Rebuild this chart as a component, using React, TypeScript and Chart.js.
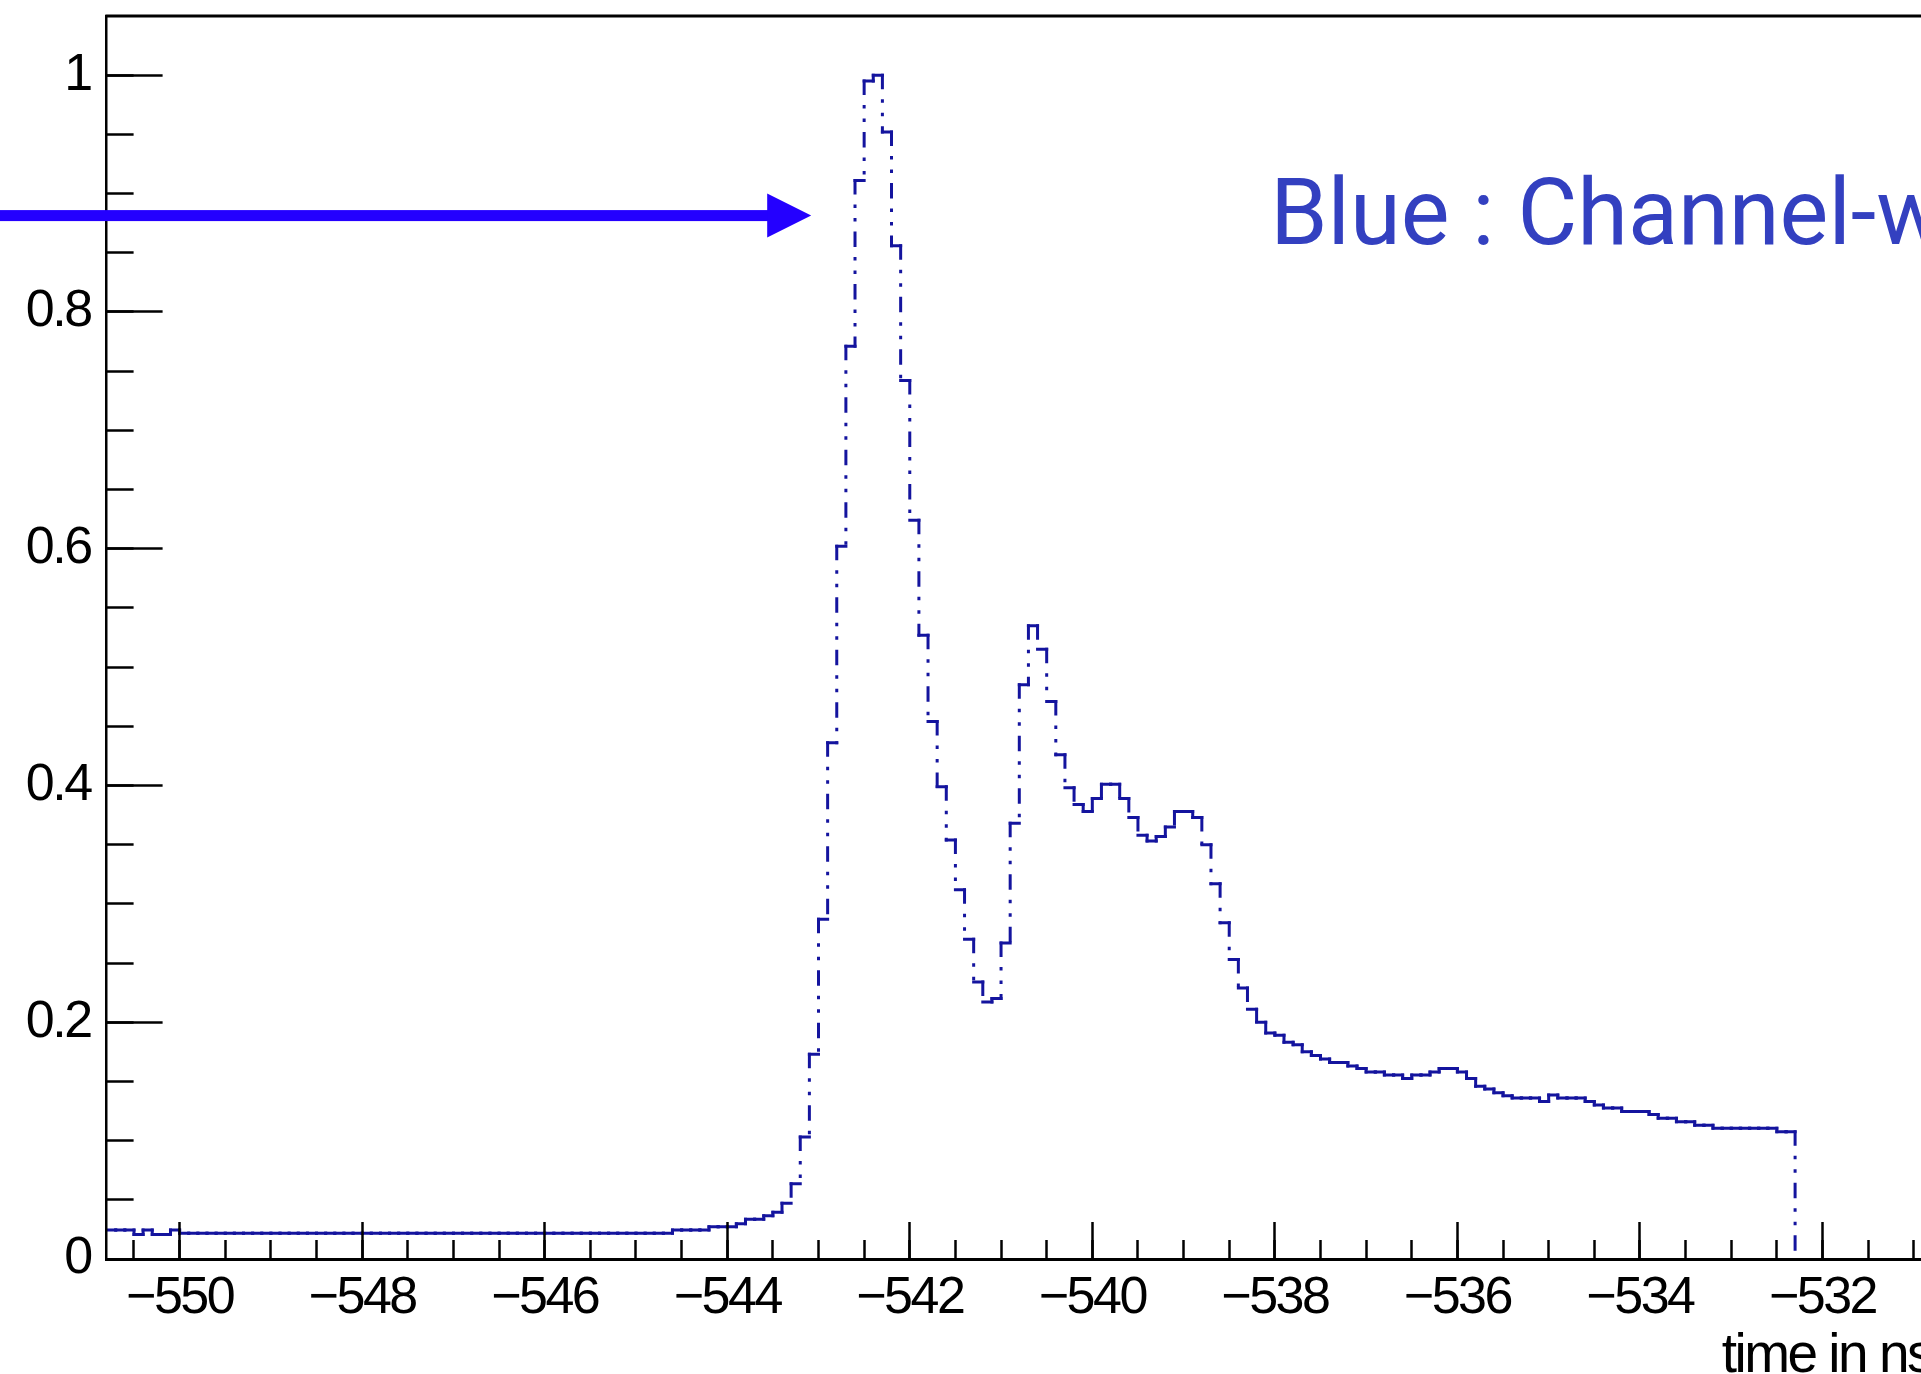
import React, { useEffect, useRef } from "react";
import { Chart, registerables } from "chart.js";

Chart.register(...registerables);

// ---- canvas / frame geometry (px) ----
const VIEW_W = 1921;
const CANVAS_W = 1960;
const CANVAS_H = 1374;
const PLOT_LEFT = 106.6;
const PLOT_TOP = 16;
const PLOT_RIGHT = 1932;
const PLOT_BOTTOM = 1259;

// ---- axis ranges ----
const X_MIN = -550.8;
const X_MAX = -530.8;
const Y_MIN = 0;
const Y_MAX = 1.05;

// ---- tick values ----
const X_TICKS = [-550, -548, -546, -544, -542, -540, -538, -536, -534, -532];
const Y_TICKS = [0, 0.2, 0.4, 0.6, 0.8, 1];
const X_MINOR_STEP = 0.5;
const Y_MINOR_STEP = 0.05;
const X_TITLE = "time in ns";

// ---- histogram binning (ns) ----
const FIRST_EDGE = -550.8;
const BIN_WIDTH = 0.1;

// Bin contents, normalised to the pulse maximum, left to right.
const PEDESTAL_BINS = [
  0.0245, 0.0245, 0.0245, 0.0208, 0.0245, 0.0208, 0.0208, 0.0245,
  0.0218, 0.0218, 0.0218, 0.0218, 0.0218, 0.0218, 0.0218, 0.0218, 0.0218,
  0.0218, 0.0218, 0.0218, 0.0218, 0.0218, 0.0218, 0.0218, 0.0218, 0.0218,
  0.0218, 0.0218, 0.0218, 0.0218, 0.0218, 0.0218, 0.0218, 0.0218, 0.0218,
  0.0218, 0.0218, 0.0218, 0.0218, 0.0218, 0.0218, 0.0218, 0.0218, 0.0218,
  0.0218, 0.0218, 0.0218, 0.0218, 0.0218, 0.0218, 0.0218, 0.0218, 0.0218,
  0.0218, 0.0218, 0.0218, 0.0218, 0.0218, 0.0218, 0.0218, 0.0218, 0.0218,
];

const LEADING_EDGE_BINS = [
  0.0245, 0.0245, 0.0245, 0.0245, 0.0273, 0.0273, 0.0273, 0.0298,
  0.0335, 0.0335, 0.0365, 0.0395, 0.047, 0.0635, 0.103, 0.173,
  0.287, 0.436, 0.602, 0.771, 0.911, 0.995, 1.0,
];

const AFTERPULSE_BINS = [
  0.952, 0.856, 0.742, 0.624, 0.527, 0.454, 0.399, 0.354, 0.312, 0.27,
  0.234, 0.217, 0.22, 0.267, 0.368, 0.485, 0.535, 0.515, 0.471, 0.426,
  0.398, 0.384, 0.378, 0.389, 0.401, 0.401, 0.389, 0.373, 0.358, 0.353,
  0.357, 0.365, 0.378, 0.378, 0.373, 0.35, 0.317, 0.284, 0.253, 0.229,
  0.211, 0.2, 0.191,
];

const TAIL_BINS = [
  0.189, 0.183, 0.181, 0.175, 0.172, 0.169, 0.166, 0.166, 0.163, 0.161,
  0.158, 0.158, 0.1555, 0.1555, 0.1525, 0.1555, 0.1555, 0.158, 0.161, 0.161,
  0.158, 0.1525, 0.146, 0.1435, 0.1405, 0.138, 0.136, 0.136, 0.136, 0.133,
  0.1385, 0.136, 0.136, 0.136, 0.133, 0.13, 0.1275, 0.1275, 0.1245, 0.1245,
  0.1245, 0.122, 0.119, 0.119, 0.116, 0.116, 0.113, 0.113, 0.1105, 0.1105,
  0.1105, 0.1105, 0.1105, 0.1105, 0.1105, 0.1075, 0.1075,
];

const EMPTY_BINS = [0, 0, 0, 0, 0, 0, 0, 0, 0, 0, 0, 0, 0, 0, 0];

// ---- annotation (data coordinates) ----
const ARROW_TIP_X = -543.08;
const ARROW_Y = 0.8814;
const NOTE_X = -538.05;
const NOTE_Y = 0.8574;
const NOTE_TEXT = "Blue : Channel-wise";

// ---- styles ----
const LINE_COLOR = "#14149e";
const ARROW_COLOR = "#2400ff";
const NOTE_COLOR = "#3340c0";
const AXIS_FONT = "'Liberation Sans', Arial, Helvetica, sans-serif";
const AXIS_LETTER_SPACING = "-2.5px";

// dash - dot - dot, lengths chosen for square caps
const DASH = [12.5, 13, 0.5, 13, 0.5, 13];
const DASH_PERIOD = DASH.reduce((a, b) => a + b, 0);

function stepTicks(from: number, to: number, step: number) {
  const out: { value: number }[] = [];
  const n = Math.round((to - from) / step);
  for (let i = 0; i <= n; i++) out.push({ value: Math.round((from + i * step) * 1000) / 1000 });
  return out;
}

function histogramVertices(bins: number[]) {
  const pts: { x: number; y: number }[] = [];
  bins.forEach((v, k) => {
    const lo = Math.round((FIRST_EDGE + k * BIN_WIDTH) * 10) / 10;
    const hi = Math.round((lo + BIN_WIDTH) * 10) / 10;
    pts.push({ x: lo, y: v }, { x: hi, y: v });
  });
  return pts;
}

const HIST_POINTS = histogramVertices([
  ...PEDESTAL_BINS,
  ...LEADING_EDGE_BINS,
  ...AFTERPULSE_BINS,
  ...TAIL_BINS,
  ...EMPTY_BINS,
]);

// every polyline piece restarts its dash pattern; climbing edges are phased
// so that the pattern reads from the top, like the descending ones
function dashOffsetFor(ctx: any) {
  const rise = ctx.p0.y - ctx.p1.y;
  let offset = 0;
  if (rise > 0.5) offset = (((DASH[0] - rise) % DASH_PERIOD) + DASH_PERIOD) % DASH_PERIOD;
  return offset + (ctx.p0DataIndex % 2) * 0.001;
}

// empty bins sit on the axis line and are left to the axis
function segmentColorFor(ctx: any) {
  const a = HIST_POINTS[ctx.p0DataIndex];
  const b = HIST_POINTS[ctx.p1DataIndex];
  return a && b && a.y === 0 && b.y === 0 ? "rgba(0,0,0,0)" : LINE_COLOR;
}

const condensedAxisText = {
  id: "condensedAxisText",
  beforeDraw(chart: any) {
    chart.ctx.letterSpacing = AXIS_LETTER_SPACING;
  },
  afterDraw(chart: any) {
    chart.ctx.letterSpacing = "0px";
  },
};

const frameAndNotes = {
  id: "frameAndNotes",
  afterDraw(chart: any) {
    const { ctx, chartArea } = chart;
    const xs = chart.scales.x;
    const ys = chart.scales.y;
    ctx.save();

    // upper and right frame edges
    ctx.strokeStyle = "#000";
    ctx.lineWidth = 3;
    ctx.beginPath();
    ctx.moveTo(chartArea.left - 1.25, chartArea.top);
    ctx.lineTo(chartArea.right, chartArea.top);
    ctx.lineTo(chartArea.right, chartArea.bottom);
    ctx.stroke();

    // arrow pointing at the main peak
    const tipX = xs.getPixelForValue(ARROW_TIP_X);
    const ay = ys.getPixelForValue(ARROW_Y);
    const headLen = 44;
    const headHalf = 22;
    const shaft = 11;
    ctx.fillStyle = ARROW_COLOR;
    ctx.fillRect(0, ay - shaft / 2, tipX - headLen + 1, shaft);
    ctx.beginPath();
    ctx.moveTo(tipX, ay);
    ctx.lineTo(tipX - headLen, ay - headHalf);
    ctx.lineTo(tipX - headLen, ay + headHalf);
    ctx.closePath();
    ctx.fill();

    // note text
    ctx.fillStyle = NOTE_COLOR;
    ctx.font = "92px Roboto, 'Noto Sans', sans-serif";
    ctx.textAlign = "left";
    ctx.textBaseline = "alphabetic";
    ctx.fillText(NOTE_TEXT, xs.getPixelForValue(NOTE_X), ys.getPixelForValue(NOTE_Y));

    ctx.restore();
  },
};

function zeroPadding(s: any) {
  s.paddingLeft = 0;
  s.paddingRight = 0;
  s.paddingTop = 0;
  s.paddingBottom = 0;
}

export default function App() {
  const ref = useRef<HTMLCanvasElement | null>(null);

  useEffect(() => {
    const canvas = ref.current;
    if (!canvas) return;

    const tickFont = { family: AXIS_FONT, size: 52 };

    const chart = new Chart(canvas, {
      type: "line",
      data: {
        datasets: [
          {
            data: HIST_POINTS,
            xAxisID: "x",
            yAxisID: "y",
            borderColor: LINE_COLOR,
            borderWidth: 3,
            borderDash: DASH,
            borderCapStyle: "square",
            borderJoinStyle: "miter",
            pointRadius: 0,
            pointHoverRadius: 0,
            fill: false,
            tension: 0,
            segment: { borderDashOffset: dashOffsetFor, borderColor: segmentColorFor },
          } as any,
        ],
      },
      options: {
        animation: false,
        responsive: false,
        devicePixelRatio: 1,
        events: [],
        layout: {
          padding: { top: PLOT_TOP, left: 0, bottom: 0, right: CANVAS_W - PLOT_RIGHT },
        },
        plugins: {
          legend: { display: false },
          tooltip: { enabled: false },
          title: { display: false },
        },
        scales: {
          x: {
            type: "linear",
            position: "bottom",
            min: X_MIN,
            max: X_MAX,
            weight: 1,
            afterBuildTicks: (s: any) => {
              s.ticks = X_TICKS.map((value) => ({ value }));
            },
            afterFit: (s: any) => {
              s.height = CANVAS_H - PLOT_BOTTOM;
              zeroPadding(s);
            },
            grid: {
              drawOnChartArea: false,
              drawTicks: true,
              tickLength: -37,
              tickWidth: 2.5,
              tickColor: "#000",
              z: 1,
            },
            border: { display: true, color: "#000", width: 3, z: 2 },
            ticks: {
              autoSkip: false,
              maxRotation: 0,
              minRotation: 0,
              padding: 45,
              color: "#000",
              font: tickFont,
              z: 2,
              callback: (v: any) => "\u2212" + Math.abs(Number(v)),
            },
            title: {
              display: true,
              text: X_TITLE,
              align: "end",
              color: "#000",
              font: { family: AXIS_FONT, size: 55, lineHeight: 0.62 },
              padding: { top: 0, bottom: 0 },
            },
          },
          xMinor: {
            type: "linear",
            position: "bottom",
            min: X_MIN,
            max: X_MAX,
            weight: 0,
            afterBuildTicks: (s: any) => {
              s.ticks = stepTicks(-550.5, -531, X_MINOR_STEP);
            },
            afterFit: (s: any) => {
              s.height = 0;
              zeroPadding(s);
            },
            grid: {
              drawOnChartArea: false,
              drawTicks: true,
              tickLength: -19,
              tickWidth: 2.5,
              tickColor: "#000",
              z: 1,
            },
            border: { display: false },
            ticks: { display: false, autoSkip: false },
          },
          y: {
            type: "linear",
            position: "left",
            min: Y_MIN,
            max: Y_MAX,
            weight: 1,
            afterBuildTicks: (s: any) => {
              s.ticks = Y_TICKS.map((value) => ({ value }));
            },
            afterFit: (s: any) => {
              s.width = PLOT_LEFT;
              zeroPadding(s);
            },
            grid: {
              drawOnChartArea: false,
              drawTicks: true,
              tickLength: -56,
              tickWidth: 2.5,
              tickColor: "#000",
              z: 1,
            },
            border: { display: true, color: "#000", width: 2.5, z: 2 },
            ticks: {
              autoSkip: false,
              padding: 72,
              color: "#000",
              font: tickFont,
              z: 2,
              callback: (v: any) => {
                const n = Number(v);
                if (n === 0) return "0";
                if (n === 1) return "1";
                return n.toFixed(1);
              },
            },
          },
          yMinor: {
            type: "linear",
            position: "left",
            min: Y_MIN,
            max: Y_MAX,
            weight: 0,
            afterBuildTicks: (s: any) => {
              s.ticks = stepTicks(0.05, 1.0, Y_MINOR_STEP);
            },
            afterFit: (s: any) => {
              s.width = 0;
              zeroPadding(s);
            },
            grid: {
              drawOnChartArea: false,
              drawTicks: true,
              tickLength: -27,
              tickWidth: 2.5,
              tickColor: "#000",
              z: 1,
            },
            border: { display: false },
            ticks: { display: false, autoSkip: false },
          },
        },
      } as any,
      plugins: [condensedAxisText, frameAndNotes],
    });

    return () => chart.destroy();
  }, []);

  return (
    <div
      style={{
        position: "fixed",
        left: 0,
        top: 0,
        width: VIEW_W,
        height: CANVAS_H,
        overflow: "hidden",
        background: "#fff",
      }}
    >
      <canvas
        ref={ref}
        width={CANVAS_W}
        height={CANVAS_H}
        style={{ display: "block", width: CANVAS_W, height: CANVAS_H }}
      />
    </div>
  );
}
